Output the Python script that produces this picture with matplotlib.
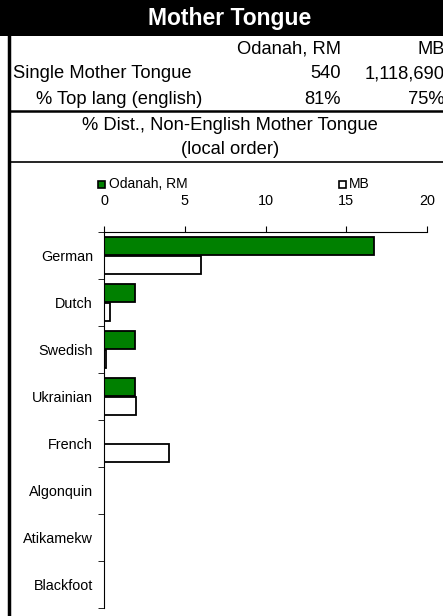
import numpy as np
import matplotlib
matplotlib.use("Agg")
import matplotlib.pyplot as plt
from matplotlib.lines import Line2D
from matplotlib.patches import Rectangle

plt.rcParams['font.family'] = ['Liberation Sans', 'DejaVu Sans']

# data
languages = ["German", "Dutch", "Swedish", "Ukrainian", "French",
             "Algonquin", "Atikamekw", "Blackfoot"]
odanah = [16.7, 1.9, 1.9, 1.9, 0.0, 0.0, 0.0, 0.0]
mb = [6.0, 0.4, 0.1, 2.0, 4.0, 0.0, 0.0, 0.0]
col_names = ["Odanah, RM", "MB"]
single_mt = ["540", "1,118,690"]
top_lang = ["81%", "75%"]

W, H = 443, 616
fig = plt.figure(figsize=(W / 100, H / 100), dpi=100)

def fx(px):
    return px / W

def fy(py):
    return 1 - py / H

fs = 13.2

# title band
fig.patches.append(Rectangle((0, fy(36)), 1, 36 / H, transform=fig.transFigure,
                             facecolor="black", edgecolor="none"))
fig.text(fx(230), fy(18), "Mother Tongue", color="white", fontsize=16.5,
         fontweight="bold", ha="center", va="center")

# table
fig.text(fx(341), fy(49), col_names[0], fontsize=fs, ha="right", va="center")
fig.text(fx(445), fy(49), col_names[1], fontsize=fs, ha="right", va="center")
fig.text(fx(13), fy(74), "Single Mother Tongue", fontsize=fs, ha="left", va="center")
fig.text(fx(341), fy(74), single_mt[0], fontsize=fs, ha="right", va="center")
fig.text(fx(445), fy(74), single_mt[1], fontsize=fs, ha="right", va="center")
fig.text(fx(202), fy(99), "% Top lang (english)", fontsize=fs, ha="right", va="center")
fig.text(fx(341), fy(99), top_lang[0], fontsize=fs, ha="right", va="center")
fig.text(fx(445), fy(99), top_lang[1], fontsize=fs, ha="right", va="center")
fig.text(fx(230), fy(125), "% Dist., Non-English Mother Tongue", fontsize=fs,
         ha="center", va="center")
fig.text(fx(230), fy(149), "(local order)", fontsize=fs, ha="center", va="center")

# borders
fig.lines.append(Line2D([fx(9), fx(9)], [fy(36), 0], transform=fig.transFigure,
                        color="black", lw=2.5))
fig.lines.append(Line2D([fx(9), 1], [fy(111), fy(111)], transform=fig.transFigure,
                        color="black", lw=1.8))
fig.lines.append(Line2D([fx(9), 1], [fy(162), fy(162)], transform=fig.transFigure,
                        color="black", lw=1.2))

# legend
fig.patches.append(Rectangle((fx(98), fy(188)), 7 / W, 7 / H, transform=fig.transFigure,
                             facecolor="#008000", edgecolor="black", lw=1.2))
fig.text(fx(109), fy(184.5), col_names[0], fontsize=10, ha="left", va="center")
fig.patches.append(Rectangle((fx(339), fy(188)), 7 / W, 7 / H, transform=fig.transFigure,
                             facecolor="white", edgecolor="black", lw=1.2))
fig.text(fx(349), fy(184.5), col_names[1], fontsize=10, ha="left", va="center")

# bars
ax = fig.add_axes([fx(104), fy(608), (427 - 104) / W, (608 - 232) / H])
y = np.arange(len(languages))
ax.barh(y - 0.2, odanah, height=0.38, color="#008000", edgecolor="black", lw=1.3)
ax.barh(y + 0.2, mb, height=0.38, color="white", edgecolor="black", lw=1.3)

ax.set_xlim(0, 20)
ax.set_ylim(len(languages) - 0.5, -0.5)
ax.xaxis.tick_top()
ax.set_xticks([0, 5, 10, 15, 20])
ax.tick_params(axis="x", direction="out", length=4, labelsize=10.4, pad=13)
ax.set_yticks(y)
ax.set_yticklabels(languages)
ax.tick_params(axis="y", length=0, labelsize=10.4, pad=8)
ax.set_yticks(np.arange(-0.5, len(languages)), minor=True)
ax.tick_params(axis="y", which="minor", direction="out", length=4)
ax.spines["right"].set_visible(False)
ax.spines["bottom"].set_visible(False)
ax.spines["top"].set_linewidth(0.8)
ax.spines["left"].set_linewidth(0.8)

fig.savefig("out.png", dpi=100)
